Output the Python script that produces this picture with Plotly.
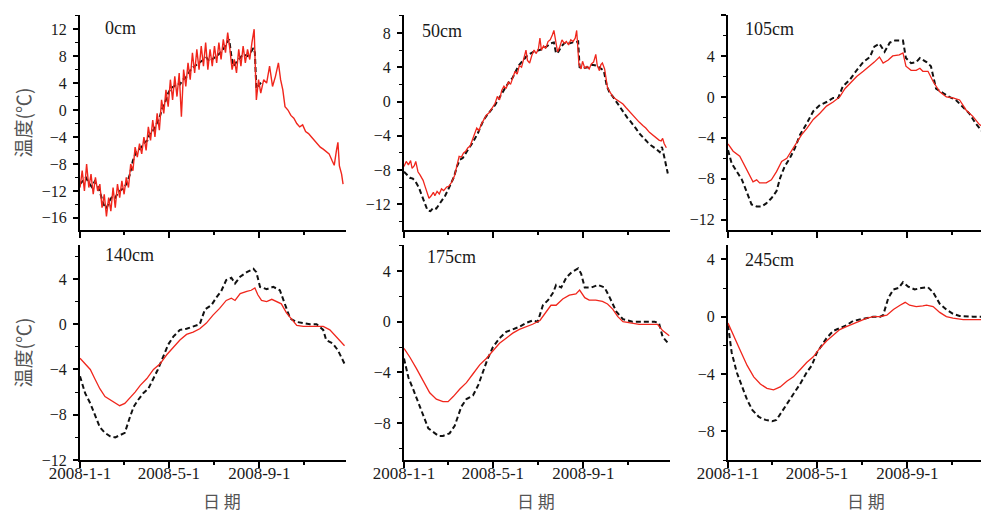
import pandas as pd
import plotly.graph_objects as go

BASE = pd.Timestamp("2008-01-01")

# ---------------- data: (day offset from 2008-01-01, temperature in degC) ----------------
CM0_RED = [(0,-11.5),(3,-9.0),(6,-12.0),(9,-8.0),(12,-11.5),(15,-9.5),(18,-12.5),(21,-10.0),(24,-12.0),
           (27,-11.0),(30,-14.5),(33,-12.5),(36,-15.8),(39,-13.0),(42,-15.0),(45,-11.5),(48,-14.5),
           (51,-11.0),(54,-13.0),(57,-10.5),(60,-12.5),(63,-10.0),(66,-11.5),(69,-8.0),(72,-9.0),
           (75,-5.5),(78,-7.0),(81,-5.0),(84,-6.5),(87,-4.0),(90,-6.0),(93,-2.5),(96,-4.5),(99,-1.5),
           (102,-4.0),(105,-0.5),(108,-3.0),(111,1.5),(114,-0.5),(117,3.0),(120,0.5),(123,4.5),
           (126,1.5),(129,5.0),(132,2.0),(135,5.5),(138,-1.0),(141,6.0),(144,3.5),(147,7.0),(150,4.5),
           (153,8.5),(156,5.5),(159,9.0),(162,6.0),(165,9.5),(168,6.5),(171,10.0),(174,6.0),(177,9.0),
           (180,6.5),(183,9.5),(186,7.0),(189,10.0),(192,7.5),(195,10.5),(198,8.5),(201,11.5),(204,9.0),
           (207,6.0),(210,7.5),(213,5.5),(216,9.0),(219,6.5),(222,9.5),(225,7.0),(228,9.0),(231,7.5),
           (234,10.0),(237,12.0),(240,1.5),(243,4.5),(246,2.5),(250,4.5),(254,4.0),(258,6.5),(262,3.5),
           (266,5.0),(270,7.0),(273,4.5),(276,3.0),(279,0.5),(283,0.0),(287,-0.8),(291,-1.2),(295,-2.0),
           (299,-2.5),(303,-2.2),(307,-3.2),(311,-3.5),(315,-4.0),(319,-4.5),(323,-5.0),(327,-5.5),
           (331,-5.8),(335,-6.2),(339,-6.5),(343,-7.5),(346,-8.2),(349,-6.0),(351,-4.8),(353,-8.3),
           (356,-9.5),(358,-11.0)]
CM0_BLK = [(0,-11.0),(4,-10.5),(8,-10.0),(12,-10.8),(16,-11.4),(20,-10.6),(24,-11.2),(28,-12.5),
           (32,-14.0),(36,-14.6),(40,-13.5),(44,-12.8),(48,-13.0),(52,-12.2),(56,-11.8),(60,-11.5),
           (64,-10.8),(68,-9.5),(72,-7.5),(76,-6.3),(80,-6.0),(84,-5.4),(88,-4.8),(92,-4.5),(96,-3.2),
           (100,-3.0),(104,-2.0),(108,-1.2),(112,0.3),(116,1.2),(120,2.5),(124,3.3),(128,3.5),(132,4.0),
           (136,3.8),(140,4.5),(144,4.8),(148,5.5),(152,6.2),(156,6.5),(160,6.8),(164,7.2),(168,7.5),
           (172,7.8),(176,7.2),(180,7.5),(184,7.8),(188,8.2),(192,8.6),(196,9.2),(200,10.0),(203,10.5),
           (206,8.0),(209,6.5),(212,7.0),(216,7.5),(220,8.0),(224,8.2),(228,8.0),(232,8.5),(236,9.2),
           (238,8.5),(240,3.2),(244,3.8),(248,4.2)]

CM50_RED = [(0,-7.6),(3,-7.0),(6,-7.4),(9,-6.9),(11,-7.8),(14,-7.5),(16,-7.0),(19,-8.2),(22,-8.6),
            (26,-9.2),(29,-10.0),(31,-10.6),(34,-11.3),(37,-11.0),(40,-10.6),(42,-11.0),(45,-10.5),
            (48,-10.8),(51,-10.2),(54,-10.4),(58,-10.0),(61,-9.9),(65,-9.4),(69,-8.6),(72,-7.5),
            (75,-6.4),(78,-6.5),(81,-6.0),(84,-5.8),(87,-5.4),(90,-5.2),(93,-4.4),(96,-3.8),(99,-3.1),
            (102,-3.4),(105,-2.7),(108,-2.2),(112,-1.6),(116,-1.3),(120,-0.8),(124,-0.2),(127,0.6),
            (130,0.2),(133,1.3),(136,1.8),(139,1.5),(142,2.3),(145,2.0),(148,2.8),(151,3.5),(154,3.2),
            (157,4.2),(160,4.0),(163,5.0),(166,6.0),(168,4.8),(171,4.5),(174,5.4),(177,6.0),(180,5.6),
            (183,6.2),(185,7.4),(187,6.0),(190,6.5),(193,6.2),(196,7.0),(199,7.2),(202,7.8),(204,8.3),
            (207,6.8),(209,5.8),(212,6.4),(215,7.2),(218,6.8),(221,7.0),(224,6.6),(227,7.2),(230,7.0),
            (233,7.4),(235,8.3),(238,4.4),(241,3.8),(243,4.7),(246,3.9),(249,4.1),(252,3.8),(255,4.4),
            (258,4.6),(261,5.5),(263,4.2),(266,3.6),(268,4.3),(270,4.5),(273,3.8),(277,1.6),(281,1.0),
            (284,0.6),(288,0.3),(293,0.0),(298,-0.3),(302,-0.7),(306,-1.1),(311,-1.6),(316,-2.0),
            (320,-2.4),(325,-2.8),(329,-3.1),(334,-3.6),(338,-3.9),(342,-4.2),(347,-4.5),(350,-4.6),
            (352,-4.3),(354,-4.9),(357,-5.4)]
CM50_BLK = [(0,-8.2),(4,-8.6),(8,-8.9),(12,-9.0),(16,-9.4),(20,-10.0),(24,-10.8),(28,-11.8),(32,-12.7),
            (36,-12.8),(40,-12.4),(44,-12.5),(48,-12.0),(52,-11.5),(56,-11.0),(60,-10.3),(64,-9.6),
            (68,-8.8),(72,-7.6),(76,-6.8),(80,-6.6),(84,-6.0),(88,-5.5),(92,-5.0),(96,-4.4),(100,-3.8),
            (104,-3.0),(108,-2.2),(112,-1.7),(116,-1.3),(120,-0.8),(124,-0.4),(128,0.2),(132,0.8),
            (136,1.4),(140,1.9),(144,2.4),(148,2.8),(152,3.5),(156,4.2),(160,4.6),(164,5.0),(168,5.4),
            (172,5.6),(176,5.8),(180,5.9),(184,6.0),(188,6.1),(192,6.3),(196,6.6),(200,6.8),(204,6.9),
            (207,5.6),(210,5.8),(214,6.4),(218,6.8),(222,6.9),(226,6.8),(230,6.9),(234,6.9),(237,7.0),
            (239,4.0),(244,3.9),(250,4.0),(256,4.3),(262,4.2),(268,3.8),(272,3.6),(276,1.8),(280,1.0),
            (284,0.6),(288,0.1),(292,-0.5),(296,-0.9),(300,-1.5),(304,-1.9),(308,-2.3),(312,-2.7),
            (316,-3.2),(320,-3.7),(324,-4.1),(328,-4.4),(332,-4.8),(336,-5.1),(340,-5.3),(344,-5.6),
            (348,-5.9),(351,-5.3),(354,-6.4),(357,-7.5),(359,-8.4)]

CM105_RED = [(0,-4.6),(7,-5.3),(16,-5.8),(23,-6.8),(30,-7.8),(34,-8.3),(39,-8.1),(43,-8.4),(52,-8.4),
             (59,-8.1),(66,-7.3),(73,-6.3),(80,-6.0),(86,-5.3),(93,-4.4),(100,-3.7),(107,-3.1),
             (116,-2.2),(125,-1.6),(134,-0.9),(143,-0.5),(152,0.0),(159,0.8),(166,1.3),(175,2.0),
             (184,2.5),(193,3.0),(199,3.4),(206,3.9),(211,3.3),(218,3.6),(224,4.0),(233,4.1),(238,4.3),
             (242,3.0),(249,2.6),(256,2.6),(261,2.8),(265,2.5),(272,2.5),(279,1.5),(288,0.5),(297,0.0),
             (306,-0.1),(315,-0.3),(324,-1.3),(333,-1.9),(342,-2.7),(351,-3.1),(355,-3.3)]
CM105_BLK = [(0,-5.2),(5,-6.5),(12,-7.3),(19,-8.1),(25,-9.2),(32,-10.5),(39,-10.7),(46,-10.7),
             (52,-10.4),(59,-9.9),(66,-9.2),(71,-7.9),(77,-6.8),(84,-6.0),(91,-5.0),(98,-3.7),
             (107,-2.6),(116,-1.4),(125,-0.8),(134,-0.5),(143,-0.1),(150,-0.1),(156,1.0),(166,1.7),
             (175,2.6),(184,3.4),(193,3.9),(199,4.9),(206,5.2),(213,4.4),(220,5.3),(227,5.5),(238,5.5),
             (242,3.8),(249,3.3),(256,3.4),(261,3.8),(270,3.4),(276,3.0),(283,0.8),(292,0.4),(301,0.0),
             (310,-0.3),(319,-1.0),(328,-1.6),(337,-2.6),(346,-3.4),(355,-4.0)]

CM140_RED = [(0,-3.0),(7,-3.5),(14,-4.0),(20,-4.8),(27,-5.7),(34,-6.4),(41,-6.7),(48,-7.0),(54,-7.2),
             (61,-7.0),(68,-6.5),(75,-6.0),(82,-5.4),(91,-4.8),(100,-4.0),(109,-3.5),(118,-2.7),
             (127,-2.0),(136,-1.4),(145,-0.9),(154,-0.7),(163,-0.4),(172,0.1),(181,0.8),(190,1.4),
             (199,2.1),(206,2.3),(211,2.1),(218,2.7),(227,2.9),(233,3.0),(238,3.2),(242,2.6),(247,2.1),
             (254,2.0),(261,2.2),(267,2.0),(274,1.8),(281,1.0),(288,0.4),(295,-0.1),(304,-0.2),
             (313,-0.2),(322,-0.2),(331,-0.2),(340,-0.5),(349,-1.1),(360,-1.9)]
CM140_BLK = [(0,-4.6),(7,-6.1),(14,-7.0),(20,-7.9),(27,-9.1),(34,-9.6),(41,-9.9),(48,-10.0),(54,-9.8),
             (61,-9.6),(68,-8.2),(73,-7.3),(79,-6.7),(86,-6.1),(93,-5.7),(100,-4.8),(106,-4.0),
             (113,-2.9),(120,-1.8),(127,-1.1),(136,-0.5),(145,-0.4),(154,-0.2),(163,0.0),(170,1.3),
             (179,1.7),(186,2.4),(192,2.9),(199,3.9),(206,4.1),(211,3.6),(218,4.2),(227,4.6),(236,4.9),
             (240,4.6),(245,3.3),(254,3.1),(263,3.3),(272,3.0),(279,1.8),(286,0.5),(295,0.2),(304,0.1),
             (313,0.0),(322,0.0),(331,-0.5),(335,-1.4),(344,-1.7),(351,-2.3),(360,-3.5)]

CM175_RED = [(0,-2.1),(8,-2.8),(17,-3.7),(26,-4.6),(35,-5.6),(44,-6.1),(53,-6.3),(60,-6.3),(67,-5.9),
             (76,-5.3),(85,-4.8),(94,-4.1),(103,-3.4),(112,-2.9),(121,-2.3),(130,-1.7),(139,-1.3),
             (148,-0.9),(157,-0.6),(166,-0.4),(175,-0.2),(185,0.1),(194,0.8),(200,1.3),(207,1.3),
             (216,1.8),(225,2.1),(234,2.2),(239,2.5),(246,1.9),(252,1.7),(261,1.7),(270,1.6),(277,1.4),
             (284,1.0),(291,0.4),(298,0.0),(307,-0.1),(320,-0.2),(334,-0.2),(345,-0.2),(352,-0.7),
             (361,-1.1)]
CM175_BLK = [(0,-2.9),(6,-4.4),(13,-5.4),(19,-6.3),(26,-7.5),(33,-8.4),(40,-8.7),(47,-9.0),(53,-9.0),
             (62,-8.8),(69,-8.2),(74,-7.3),(78,-6.7),(85,-6.1),(94,-5.8),(101,-5.0),(108,-3.8),
             (114,-2.9),(121,-2.0),(130,-1.3),(139,-0.8),(148,-0.6),(157,-0.4),(166,-0.1),(175,0.1),
             (182,0.0),(189,1.3),(196,1.7),(203,2.3),(207,2.9),(214,2.7),(221,3.5),(228,3.9),(237,4.2),
             (241,3.8),(246,2.7),(255,2.7),(264,2.9),(273,2.7),(280,1.9),(289,0.8),(298,0.2),(311,0.0),
             (325,0.0),(341,0.0),(347,-0.1),(352,-1.2),(361,-1.8)]

CM245_RED = [(0,-0.45),(8,-1.4),(17,-2.4),(26,-3.4),(35,-4.2),(44,-4.7),(53,-5.0),(62,-5.1),(71,-4.9),
             (80,-4.5),(89,-4.2),(98,-3.7),(107,-3.2),(116,-2.8),(125,-2.2),(134,-1.7),(143,-1.3),
             (152,-0.9),(161,-0.7),(170,-0.5),(180,-0.3),(189,-0.1),(198,0.0),(207,0.0),(216,0.1),
             (225,0.5),(234,0.8),(241,1.0),(247,0.8),(256,0.7),(265,0.75),(270,0.8),(279,0.7),(288,0.3),
             (297,0.0),(306,-0.1),(320,-0.2),(333,-0.2),(355,-0.2)]
CM245_BLK = [(0,-0.6),(5,-2.5),(12,-3.9),(19,-4.9),(26,-5.8),(33,-6.5),(42,-7.0),(51,-7.2),(60,-7.3),
             (66,-7.2),(73,-6.6),(80,-6.1),(89,-5.4),(98,-4.7),(107,-3.9),(114,-3.4),(121,-2.5),
             (128,-2.0),(134,-1.5),(143,-1.0),(152,-0.8),(161,-0.6),(170,-0.3),(180,-0.2),(189,-0.1),
             (198,0.0),(207,0.0),(211,0.1),(218,1.3),(225,1.9),(232,2.0),(238,2.4),(245,2.1),(254,1.9),
             (263,2.0),(272,2.05),(279,1.7),(288,0.9),(297,0.5),(306,0.2),(315,0.05),(333,0.0),(355,0.0)]

PANEL_LABELS = ["0cm", "50cm", "105cm", "140cm", "175cm", "245cm"]
SERIES = [(CM0_RED, CM0_BLK), (CM50_RED, CM50_BLK), (CM105_RED, CM105_BLK),
          (CM140_RED, CM140_BLK), (CM175_RED, CM175_BLK), (CM245_RED, CM245_BLK)]
Y_RANGES = [[-17.8, 14.1], [-15.0, 10.1], [-13.0, 8.0], [-12.0, 7.0], [-10.9, 6.05], [-10.0, 5.0]]
X_TICKS = ["2008-01-01", "2008-05-01", "2008-09-01"]
X_TICKTEXT = ["2008-1-1", "2008-5-1", "2008-9-1"]
X_MINOR = ["2008-03-01", "2008-07-01", "2008-11-01"]
X_END = ["2008-12-28", "2008-12-28", "2008-12-21"]
Y_TITLE = "温度(℃)"
X_TITLE = "日 期"

# ---------------- layout geometry (screen pixels; page body has an 8px offset) ----------------
OFF = 8
W, H = 989 - OFF, 514 - OFF
COLS = [(80, 346), (404, 670), (728, 989)]
ROWS = [(15, 230), (245, 460)]
LABEL_POS = [(103, 28), (420, 31), (743, 29), (103, 255), (425, 257), (743, 260)]
XTITLE_X = [222, 536, 866]


def px(x):
    return (x - OFF) / W


def py(y):
    return 1 - (y - OFF) / H


def dates(days):
    return [BASE + pd.Timedelta(days=d) for d in days]


fig = go.Figure()
SERIF = "Liberation Serif, Times New Roman, serif"
CJK = "Noto Sans CJK SC, sans-serif"

for i, (red, blk) in enumerate(SERIES):
    n = i + 1
    xa = "x" if n == 1 else f"x{n}"
    ya = "y" if n == 1 else f"y{n}"
    bd, bv = zip(*blk)
    rd, rv = zip(*red)
    fig.add_trace(go.Scatter(x=dates(bd), y=list(bv), mode="lines", xaxis=xa, yaxis=ya,
                             line=dict(color="#111111", width=2, dash="5px,3px"),
                             showlegend=False, hoverinfo="skip"))
    fig.add_trace(go.Scatter(x=dates(rd), y=list(rv), mode="lines", xaxis=xa, yaxis=ya,
                             line=dict(color="#f0261c", width=1.4 if n == 1 else 1.3),
                             showlegend=False, hoverinfo="skip"))

layout = dict(width=W, height=H, margin=dict(l=0, r=0, t=0, b=0, pad=0, autoexpand=False),
              paper_bgcolor="white", plot_bgcolor="white", showlegend=False)
annotations = []
for i in range(6):
    n = i + 1
    r, c = divmod(i, 3)
    x0, x1 = COLS[c]
    top, bot = ROWS[r]
    xkey = "xaxis" if n == 1 else f"xaxis{n}"
    ykey = "yaxis" if n == 1 else f"yaxis{n}"
    layout[xkey] = dict(
        type="date", domain=[px(x0), min(px(x1), 1.0)], anchor="y" if n == 1 else f"y{n}",
        range=["2008-01-01", X_END[c]], automargin=False,
        showline=True, linecolor="black", linewidth=2, showgrid=False, zeroline=False,
        ticks="outside", ticklen=6, tickwidth=2, tickcolor="black",
        tickmode="array", tickvals=X_TICKS, ticktext=X_TICKTEXT,
        showticklabels=(r == 1), ticklabelstandoff=-9,
        tickfont=dict(family=SERIF, size=17, color="#1a1a1a"),
        minor=dict(tickmode="array", tickvals=X_MINOR, ticks="outside", ticklen=3,
                   tickwidth=2, tickcolor="black", showgrid=False),
    )
    layout[ykey] = dict(
        domain=[py(bot), py(top)], anchor="x" if n == 1 else f"x{n}",
        range=Y_RANGES[i], automargin=False,
        showline=True, linecolor="black", linewidth=2, showgrid=False, zeroline=False,
        ticks="outside", ticklen=5, tickwidth=1.5, tickcolor="black",
        tick0=0, dtick=4, ticklabelstandoff=3,
        tickfont=dict(family=SERIF, size=16, color="#1a1a1a"),
        minor=dict(tick0=0, dtick=2, ticks="outside", ticklen=3, tickwidth=1.2,
                   tickcolor="black", showgrid=False),
    )
    lx, ly = LABEL_POS[i]
    annotations.append(dict(text=PANEL_LABELS[i], x=px(lx), y=py(ly), xref="paper", yref="paper",
                            xanchor="left", yanchor="middle", showarrow=False,
                            font=dict(family=SERIF, size=18, color="#1a1a1a")))

for r in range(2):
    top, bot = ROWS[r]
    annotations.append(dict(text=Y_TITLE, x=px(22), y=py((top + bot) / 2), xref="paper", yref="paper",
                            xanchor="center", yanchor="middle", textangle=-90, showarrow=False,
                            font=dict(family=CJK, size=19, color="#555555")))
for c in range(3):
    annotations.append(dict(text=X_TITLE, x=px(XTITLE_X[c]), y=py(500), xref="paper", yref="paper",
                            xanchor="center", yanchor="middle", showarrow=False,
                            font=dict(family=CJK, size=17, color="#555555")))

layout["annotations"] = annotations
fig.update_layout(**layout)
fig.write_html("out.html")
